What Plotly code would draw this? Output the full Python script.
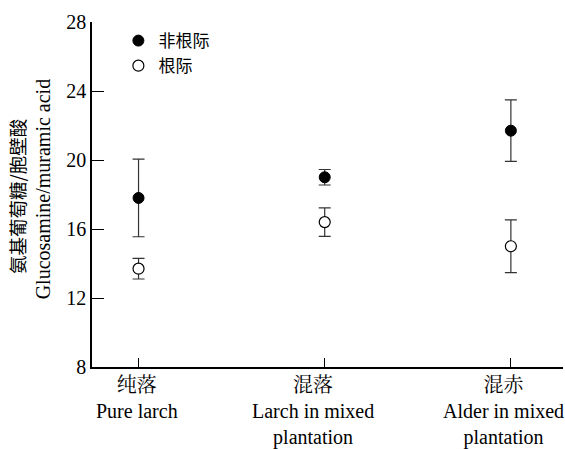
import plotly.graph_objects as go

categories = ["纯落<br>Pure larch", "混落<br>Larch in mixed<br>plantation", "混赤<br>Alder in mixed<br>plantation"]
non_rhizo = [17.8, 19.0, 21.7]
non_rhizo_err = [2.25, 0.45, 1.78]
rhizo = [13.7, 16.4, 15.0]
rhizo_err = [0.6, 0.83, 1.53]
y_ticks = [8, 12, 16, 20, 24, 28]
y_title_cn = "氨基葡萄糖/胞壁酸"
y_title_en = "Glucosamine/muramic acid"

serif = "Liberation Serif, Noto Serif CJK SC, Noto Sans CJK SC, serif"
xpos = list(range(len(categories)))
label_shift = [-2, -12, -7]

fig = go.Figure()
fig.add_trace(go.Scatter(
    x=xpos, y=non_rhizo, mode="markers", name="非根际",
    marker=dict(symbol="circle", size=11, color="black", line=dict(color="black", width=1)),
    error_y=dict(type="data", array=non_rhizo_err, color="#333333", thickness=1.2, width=6),
))
fig.add_trace(go.Scatter(
    x=xpos, y=rhizo, mode="markers", name="根际",
    marker=dict(symbol="circle", size=11, color="white", line=dict(color="black", width=1.2)),
    error_y=dict(type="data", array=rhizo_err, color="#333333", thickness=1.2, width=6),
))

# category labels under the x axis
for xi, lab, sh in zip(xpos, categories, label_shift):
    fig.add_annotation(text=lab, x=xi, xref="x", y=0, yref="paper",
                       xanchor="center", yanchor="top", yshift=-5, xshift=sh,
                       showarrow=False, align="center",
                       font=dict(family=serif, size=20, color="black"))

# y-axis title as two rotated lines
fig.add_annotation(text=y_title_cn, xref="paper", yref="paper", x=-0.159, y=0.493,
                   xanchor="center", yanchor="middle", textangle=-90, showarrow=False,
                   font=dict(family="Noto Sans CJK SC", size=18.5, color="black"))
fig.add_annotation(text=y_title_en, xref="paper", yref="paper", x=-0.104, y=0.515,
                   xanchor="center", yanchor="middle", textangle=-90, showarrow=False,
                   font=dict(family=serif, size=20, color="black"))

fig.update_layout(
    width=565, height=449,
    margin=dict(l=92, r=2, t=22, b=82),
    plot_bgcolor="white", paper_bgcolor="white",
    font=dict(family=serif, size=20, color="black"),
    showlegend=True,
    legend=dict(x=0.056, y=0.997, xanchor="left", yanchor="top",
                font=dict(family="Noto Sans CJK SC", size=17, color="black"),
                bgcolor="rgba(0,0,0,0)", tracegroupgap=0),
    xaxis=dict(
        range=[-0.25, 2.28], tickmode="array", tickvals=xpos, showticklabels=False,
        showline=True, linecolor="black", linewidth=1.5,
        ticks="inside", ticklen=9, tickcolor="black", tickwidth=1,
        showgrid=False, zeroline=False, automargin=False,
    ),
    yaxis=dict(
        range=[8, 28], tickmode="array", tickvals=y_ticks,
        showline=True, linecolor="black", linewidth=1.5,
        ticks="inside", ticklen=12, tickcolor="black", tickwidth=1,
        showgrid=False, zeroline=False, automargin=False,
        tickfont=dict(family=serif, size=20, color="black"),
    ),
)

fig.write_html("out.html")
